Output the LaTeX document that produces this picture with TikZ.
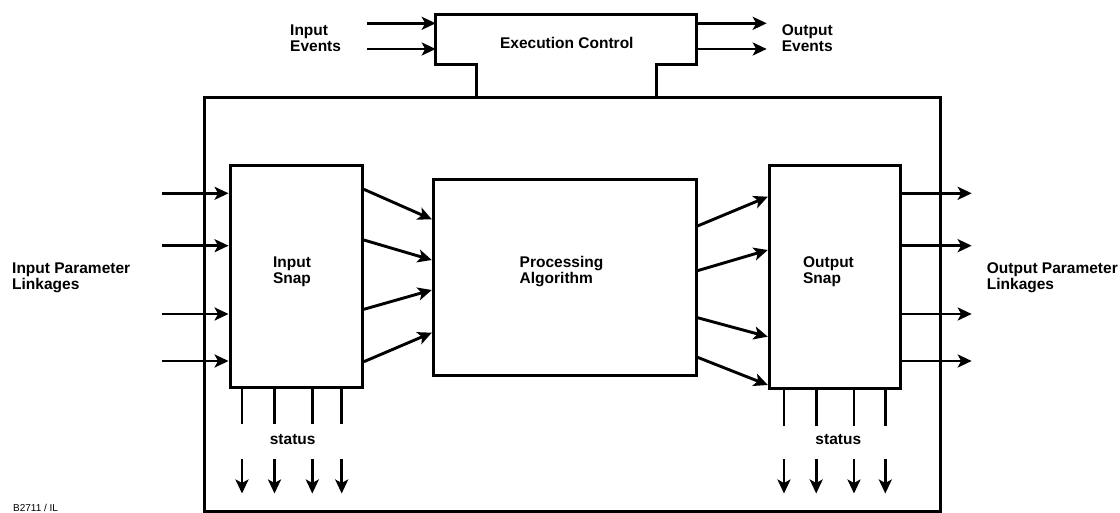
\documentclass[tikz,border=0pt]{standalone}
\usepackage{fontspec}
\setmainfont{Liberation Sans}
\usetikzlibrary{arrows.meta}
\begin{document}
\begin{tikzpicture}[x=1pt,y=-1pt,
  lbl/.style={inner sep=0, align=left, font=\bfseries\fontsize{15.5}{15.7}\selectfont},
  blk/.style={draw, line width=3pt, inner sep=0},
  arr/.style={line width=2.9pt, -{Stealth[length=14pt,width=13pt,inset=3.5pt]}},
  ln/.style={line width=2.9pt}]
\useasboundingbox (0,0) rectangle (1120,513);
% frame
\node[blk, minimum width=736.7, minimum height=414] (fb) at (572.35,304.5) {};
% execution control
\node[lbl, minimum width=261, minimum height=50.3, outer sep=0] (ec) at (566.2,39.85) {};
\node[lbl] (ect) at (566.8,43) {Execution Control};
\coordinate (ecl) at (476,97.5);
\coordinate (ecr) at (656.7,97.5);
\draw[line width=3pt, line join=miter] (ecl) -- (ecl |- ec.south) -- (ec.south west) -- (ec.north west) -- (ec.north east) -- (ec.south east) -- (ecr |- ec.south) -- (ecr);
\coordinate (ie1) at (367.3,23.3);
\coordinate (ie2) at (367.3,49);
\coordinate (oe1) at (766.7,23.3);
\coordinate (oe2) at (766.7,49);
\draw[arr] (ie1) -- (ie1 -| ec.west);
\draw[arr] (ie2) -- (ie2 -| ec.west);
\draw[arr] (oe1 -| ec.east) -- (oe1);
\draw[arr] (oe2 -| ec.east) -- (oe2);
\node[lbl, anchor=west] (iev) at (290,38) {Input\\Events};
\node[lbl, anchor=west] (oev) at (781.7,38) {Output\\Events};
% blocks
\node[blk, minimum width=132.3, minimum height=222] (is) at (296.2,276.7) {};
\node[lbl] (ist) at (292,271.5) {Input\\Snap};
\node[blk, minimum width=262.7, minimum height=195.7] (pa) at (564.65,277.15) {};
\node[lbl] (pat) at (561.5,271.5) {Processing\\Algorithm};
\node[blk, minimum width=130.7, minimum height=222.6] (os) at (834.65,277) {};
\node[lbl] (ost) at (828.5,271.5) {Output\\Snap};
% parameter labels
\node[lbl, anchor=west] (ipl) at (12,277.5) {Input Parameter\\Linkages};
\node[lbl, anchor=west] (opl) at (986.7,277.5) {Output Parameter\\Linkages};
% input parameter arrows
\foreach \y [count=\i] in {193.3,245.7,314,361} {
  \coordinate (ip\i) at (161.7,\y);
  \draw[arr] (ip\i) -- (ip\i -| is.west);
  \coordinate (op\i) at (971.7,\y);
  \draw[arr] (op\i -| os.east) -- (op\i);
}
% snap -> processing
\foreach \a/\b [count=\i] in {189.3/219.3, 240/260, 309.3/290, 361.7/332.7} {
  \coordinate (sa\i) at (365,\a);
  \coordinate (sb\i) at (433.3,\b);
  \draw[arr] (sa\i -| is.east) -- (sb\i -| pa.west);
}
% processing -> output snap
\foreach \a/\b [count=\i] in {226/196.7, 270.7/250, 317.7/336.7, 357.3/385} {
  \coordinate (pa\i) at (696,\a);
  \coordinate (pb\i) at (769.3,\b);
  \draw[arr] (pa\i -| pa.east) -- (pb\i -| os.west);
}
% status lines and arrows
\foreach \x [count=\i] in {242,274.5,312.3,341.7} {
  \coordinate (isl\i) at (\x,424.3);
  \draw[ln] (isl\i |- is.south) -- (isl\i);
  \coordinate (isa\i) at (\x,459.3);
  \coordinate (isb\i) at (\x,493.5);
  \draw[arr] (isa\i) -- (isb\i);
}
\foreach \x [count=\i] in {784,816.2,854,885.3} {
  \coordinate (osl\i) at (\x,425.5);
  \draw[ln] (osl\i |- os.south) -- (osl\i);
  \coordinate (osa\i) at (\x,459.3);
  \coordinate (osb\i) at (\x,493.5);
  \draw[arr] (osa\i) -- (osb\i);
}
\node[lbl] (st1) at (292.7,440) {status};
\node[lbl] (st2) at (838.3,440) {status};
\node[inner sep=0, anchor=west, font=\fontsize{10}{12}\selectfont] (ref) at (13,508) {B2711 / IL};
\end{tikzpicture}
\end{document}
